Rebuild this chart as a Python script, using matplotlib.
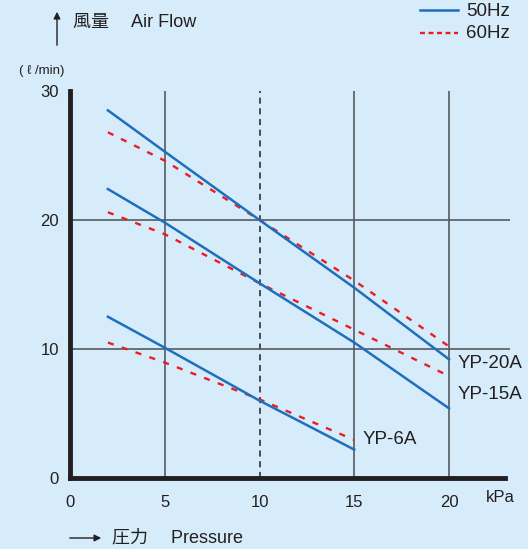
import matplotlib
matplotlib.use("Agg")
import matplotlib.pyplot as plt

plt.rcParams['font.family'] = ['Liberation Sans', 'Noto Sans CJK JP', 'DejaVu Sans']

# pressure points (kPa) and air flow (l/min)
p_20 = [2, 5, 10, 15, 20]
yp20_50 = [28.5, 25.3, 20.0, 14.75, 9.2]
yp20_60 = [26.8, 24.6, 20.0, 15.3, 10.2]

p_15 = [2, 5, 10, 15, 20]
yp15_50 = [22.4, 19.8, 15.1, 10.5, 5.4]
yp15_60 = [20.6, 18.9, 15.1, 11.5, 7.9]

p_6 = [2, 5, 10, 15]
yp6_50 = [12.5, 10.1, 6.0, 2.2]
yp6_60 = [10.5, 8.95, 6.1, 2.95]

model_names = ["YP-20A", "YP-15A", "YP-6A"]
x_ticks = [0, 5, 10, 15, 20]
y_ticks = [0, 10, 20, 30]

bg = "#d6ecfa"
blue = "#1f6fbd"
red = "#ec1c24"
ink = "#231f20"

fig = plt.figure(figsize=(5.28, 5.49), dpi=100)
fig.patch.set_facecolor(bg)
ax = fig.add_axes([70/528, 1-478/549, (510-70)/528, (478-91)/549])
ax.set_facecolor(bg)
ax.set_xlim(0, (510-70)/18.95)
ax.set_ylim(0, 30)

# grid
for xv in [5, 15, 20]:
    ax.plot([xv, xv], [0, 30], color="#4a4f52", lw=1.1, zorder=1)
ax.plot([10, 10], [0, 30], color=ink, lw=1.1, ls=(0, (4, 3)), zorder=1)
for yv in [10, 20]:
    ax.axhline(yv, color="#555b5e", lw=1.2, zorder=1)

dash = (0, (2.6, 3.6))
ax.plot(p_20, yp20_60, color=red, lw=1.7, ls=dash, zorder=2)
ax.plot(p_15, yp15_60, color=red, lw=1.7, ls=dash, zorder=2)
ax.plot(p_6, yp6_60, color=red, lw=1.7, ls=dash, zorder=2)
ax.plot(p_20, yp20_50, color=blue, lw=1.8, zorder=3)
ax.plot(p_15, yp15_50, color=blue, lw=1.8, zorder=3)
ax.plot(p_6, yp6_50, color=blue, lw=1.8, zorder=3)

ax.text(20.45, 8.85, model_names[0], fontsize=13.5, color=ink, va="center")
ax.text(20.45, 6.5, model_names[1], fontsize=13.5, color=ink, va="center")
ax.text(15.45, 3.0, model_names[2], fontsize=13.5, color=ink, va="center")

for s in ["top", "right"]:
    ax.spines[s].set_visible(False)
ax.spines["left"].set_linewidth(3.5)
ax.spines["bottom"].set_linewidth(3.5)
ax.spines["left"].set_color(ink)
ax.spines["bottom"].set_color(ink)
ax.spines["bottom"].set_bounds(0, (505-70)/18.95)

ax.set_xticks(x_ticks)
ax.set_yticks(y_ticks)
ax.tick_params(length=0, labelsize=12, colors=ink)
ax.tick_params(axis="y", pad=8)
ax.tick_params(axis="x", pad=12)

fig.text(500/528, 1-497/549, "kPa", fontsize=12, color=ink, ha="center", va="center")
fig.text(42/528, 1-71/549, "( ℓ /min)", fontsize=9.5, color=ink, ha="center", va="center")
fig.text(73/528, 1-22/549, "風量　 Air Flow", fontsize=13, color=ink, ha="left", va="center")
fig.text(112/528, 1-538/549, "圧力　 Pressure", fontsize=13, color=ink, ha="left", va="center")

fig.add_artist(matplotlib.patches.FancyArrowPatch(
    (57/528, 1-48/549), (57/528, 1-9/549), transform=fig.transFigure,
    arrowstyle="-|>", mutation_scale=10, color=ink, lw=1))
fig.add_artist(matplotlib.patches.FancyArrowPatch(
    (67/528, 1-538/549), (104/528, 1-538/549), transform=fig.transFigure,
    arrowstyle="-|>", mutation_scale=10, color=ink, lw=1))

# legend drawn by hand at top right
fig.add_artist(matplotlib.lines.Line2D([420/528, 458/528], [1-10/549, 1-10/549],
                                       color=blue, lw=1.8))
fig.add_artist(matplotlib.lines.Line2D([420/528, 458/528], [1-33/549, 1-33/549],
                                       color=red, lw=1.7, ls=(0, (2.1, 1.5))))
fig.text(466/528, 1-12/549, "50Hz", fontsize=13.5, color=ink, va="center")
fig.text(466/528, 1-34/549, "60Hz", fontsize=13.5, color=ink, va="center")

fig.savefig("out.png", dpi=100, facecolor=bg)
